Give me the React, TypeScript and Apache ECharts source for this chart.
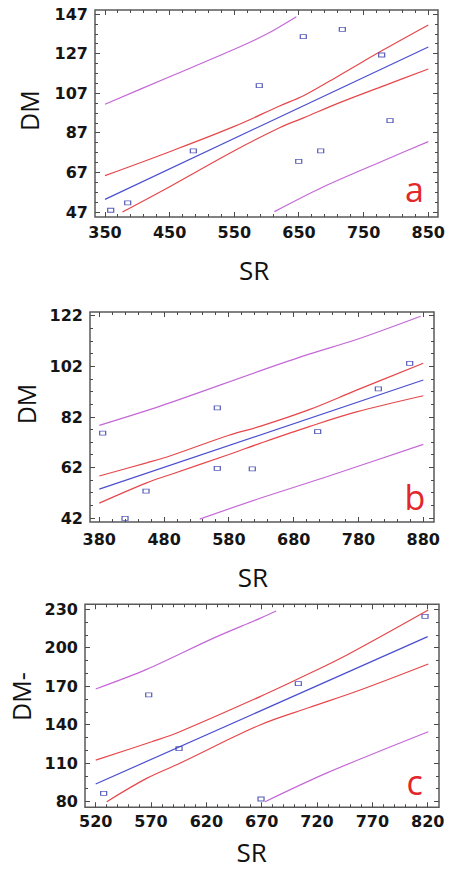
import React, { useEffect, useRef } from "react";
import * as echarts from "echarts";

// ---------- Panel a ----------
const aTicksX = [350, 450, 550, 650, 750, 850];
const aTicksY = [47, 67, 87, 107, 127, 147];
const aSR = [358.8, 385.1, 486.6, 588.6, 649.6, 656.7, 683.6, 717, 777.9, 790.8];
const aDM = [47.9, 51.6, 77.9, 110.9, 72.6, 135.7, 77.9, 139.4, 126.4, 93.2];
const aFit = [[350, 53.4], [850, 130.5]];
const aConfUpper = [[350, 65.4], [450, 77.5], [550, 90.3], [620, 100.6], [657, 105.8], [713, 116.2], [780, 128.9], [850, 141.6]];
const aConfLower = [[377, 47], [450, 59.8], [550, 78], [620, 89.6], [657, 94.6], [713, 102.3], [780, 110.7], [850, 119.3]];
const aPredUpper = [[350, 101.5], [450, 115.4], [550, 129.3], [600, 137], [646, 145.8]];
const aPredLower = [[612, 47.2], [688, 59.8], [786, 73.7], [850, 82.6]];

// ---------- Panel b ----------
const bTicksX = [380, 480, 580, 680, 780, 880];
const bTicksY = [42, 62, 82, 102, 122];
const bSR = [385.2, 419.7, 452.1, 562.1, 562.1, 616.1, 717, 810.6, 859];
const bDM = [75.6, 42.0, 52.7, 85.6, 61.7, 61.5, 76.2, 93.1, 103.2];
const bFit = [[380, 53.5], [880, 96.6]];
const bConfUpper = [[380, 58.7], [453, 63.9], [490, 66.7], [580, 74.8], [628, 78.3], [705, 85], [777, 92.6], [880, 103.2]];
const bConfLower = [[380, 48], [453, 56], [489, 59.2], [580, 67.2], [628, 71.6], [705, 78.3], [777, 84], [880, 90.4]];
const bPredUpper = [[380, 78.7], [474, 86.3], [628, 100.2], [705, 106.9], [777, 112.6], [876, 121.8]];
const bPredLower = [[535, 41.7], [628, 49.9], [731, 58.4], [880, 71.2]];

// ---------- Panel c ----------
const cTicksX = [520, 570, 620, 670, 720, 770, 820];
const cTicksY = [80, 110, 140, 170, 200, 230];
const cSR = [527.2, 567.9, 595.3, 669.4, 703.1, 817.6];
const cDM = [86.5, 163.3, 121.4, 82.1, 172.1, 224.7];
const cFit = [[520, 93.8], [820, 208.8]];
const cConfUpper = [[520, 112.5], [570.6, 126.8], [596, 134.6], [668.5, 162], [713, 180], [747, 194.5], [820.5, 229.6]];
const cConfLower = [[530, 80], [566, 98.2], [596, 110], [668.5, 139.9], [713, 153.5], [759, 167.2], [820.5, 187.5]];
const cPredUpper = [[520, 168], [566, 183.3], [626, 207.5], [668.5, 223.1], [683, 228.8]];
const cPredLower = [[673, 80], [729, 102.5], [820.5, 134.6]];

const xTitle = "SR";
const yTitles = ["DM", "DM", "DM-"];
const panelLetters = ["a", "b", "c"];

const PT = "#2d33a6";
const FIT = "#4a4fcf";
const CONF = "#e6474a";
const PRED = "#c468d6";
const FRAME = "#5a5a5a";
const TICK = "#4a4a4a";
const LABEL_FONT = "DejaVu Sans";
const TITLE_FONT = "Open Sans";

type Panel = {
  ticksX: number[];
  ticksY: number[];
  minorX: number;
  minorY: number;
  inner: { left: number; top: number; width: number; height: number };
  frame: { left: number; top: number; right: number; bottom: number };
  marginX: number;
  srGap: number;
  srPad: number[];
  dmGap: number;
  dmPad: number[];
  letterPos: number[];
  sr: number[];
  dm: number[];
  fit: number[][];
  cu: number[][];
  cl: number[][];
  pu: number[][];
  pl: number[][];
};

const panels: Panel[] = [
  {
    ticksX: aTicksX, ticksY: aTicksY, minorX: 5, minorY: 4,
    inner: { left: 105, top: 14.3, width: 323.3, height: 197.7 },
    frame: { left: 95, top: 10, right: 438, bottom: 217 },
    marginX: 7, srGap: 40, srPad: [0, 25, 0, 0], dmGap: 54, dmPad: [0, 0, 0, 5],
    letterPos: [405, 172],
    sr: aSR, dm: aDM, fit: aFit, cu: aConfUpper, cl: aConfLower, pu: aPredUpper, pl: aPredLower,
  },
  {
    ticksX: bTicksX, ticksY: bTicksY, minorX: 5, minorY: 4,
    inner: { left: 99.3, top: 315.7, width: 324, height: 202.6 },
    frame: { left: 90, top: 312, right: 434, bottom: 522 },
    marginX: 9, srGap: 42, srPad: [0, 17, 0, 0], dmGap: 49, dmPad: [0, 0, 0, 26],
    letterPos: [404.6, 480],
    sr: bSR, dm: bDM, fit: bFit, cu: bConfUpper, cl: bConfLower, pu: bPredUpper, pl: bPredLower,
  },
  {
    ticksX: cTicksX, ticksY: cTicksY, minorX: 5, minorY: 3,
    inner: { left: 95.7, top: 609.5, width: 332, height: 192.2 },
    frame: { left: 85, top: 604.3, right: 439, bottom: 807.3 },
    marginX: 6, srGap: 32, srPad: [0, 20, 0, 0], dmGap: 46, dmPad: [0, 0, 0, 18],
    letterPos: [406.4, 765],
    sr: cSR, dm: cDM, fit: cFit, cu: cConfUpper, cl: cConfLower, pu: cPredUpper, pl: cPredLower,
  },
];

// tick items: [value, 1 = major / 0 = minor]
function tickItems(ticks: number[], split: number): number[][] {
  const out: number[][] = [];
  for (let i = 0; i < ticks.length; i++) {
    out.push([ticks[i], 1]);
    if (i < ticks.length - 1) {
      const step = (ticks[i + 1] - ticks[i]) / split;
      for (let k = 1; k < split; k++) out.push([ticks[i] + k * step, 0]);
    }
  }
  return out;
}

function buildOption() {
  const grid: any[] = [];
  const xAxis: any[] = [];
  const yAxis: any[] = [];
  const series: any[] = [];
  const title: any[] = [];

  panels.forEach((p, i) => {
    grid.push({ left: p.inner.left, top: p.inner.top, width: p.inner.width, height: p.inner.height });
    const xMin = p.ticksX[0];
    const xMax = p.ticksX[p.ticksX.length - 1];
    const xInt = p.ticksX[1] - p.ticksX[0];
    const yMin = p.ticksY[0];
    const yMax = p.ticksY[p.ticksY.length - 1];
    const yInt = p.ticksY[1] - p.ticksY[0];
    const offL = p.inner.left - p.frame.left;
    const offR = p.frame.right - (p.inner.left + p.inner.width);
    const offT = p.inner.top - p.frame.top;
    const offB = p.frame.bottom - (p.inner.top + p.inner.height);

    const mkLabel = (margin: number) => ({
      fontFamily: LABEL_FONT,
      fontWeight: "bold",
      fontSize: 16,
      color: "#151515",
      margin,
    });

    ["bottom", "top"].forEach((pos) => {
      const isMain = pos === "bottom";
      xAxis.push({
        type: "value",
        gridIndex: i,
        position: pos,
        min: xMin,
        max: xMax,
        interval: xInt,
        offset: isMain ? offB : offT,
        name: isMain ? xTitle : "",
        nameLocation: "middle",
        nameGap: p.srGap,
        nameTextStyle: { fontFamily: TITLE_FONT, fontSize: 26, color: "#111", padding: p.srPad },
        axisLine: { show: false, onZero: false },
        axisTick: { show: false },
        minorTick: { show: false },
        splitLine: { show: false },
        minorSplitLine: { show: false },
        axisLabel: isMain ? mkLabel(p.marginX) : { show: false },
      });
    });
    ["left", "right"].forEach((pos) => {
      const isMain = pos === "left";
      yAxis.push({
        type: "value",
        gridIndex: i,
        position: pos,
        min: yMin,
        max: yMax,
        interval: yInt,
        offset: isMain ? offL : offR,
        name: isMain ? yTitles[i] : "",
        nameLocation: "middle",
        nameGap: p.dmGap,
        nameTextStyle: { fontFamily: TITLE_FONT, fontSize: 25, color: "#111", padding: p.dmPad },
        axisLine: { show: false, onZero: false },
        axisTick: { show: false },
        minorTick: { show: false },
        splitLine: { show: false },
        minorSplitLine: { show: false },
        axisLabel: isMain ? mkLabel(7) : { show: false },
      });
    });

    const xi = 2 * i;
    const yi = 2 * i;
    const lineSeries = (data: number[][], color: string, smooth: number) => ({
      type: "line",
      xAxisIndex: xi,
      yAxisIndex: yi,
      data,
      showSymbol: false,
      smooth,
      clip: false,
      silent: true,
      lineStyle: { color, width: 1.2 },
      itemStyle: { color },
      z: 2,
    });
    series.push(lineSeries(p.pu, PRED, 0.3));
    series.push(lineSeries(p.pl, PRED, 0.3));
    series.push(lineSeries(p.cu, CONF, 0.35));
    series.push(lineSeries(p.cl, CONF, 0.35));
    series.push(lineSeries(p.fit, FIT, 0));
    series.push({
      type: "scatter",
      xAxisIndex: xi,
      yAxisIndex: yi,
      data: p.sr.map((x, k) => [x, p.dm[k]]),
      symbol: "rect",
      symbolSize: [6, 4],
      clip: false,
      itemStyle: { color: "rgba(255,255,255,0)", borderColor: PT, borderWidth: 1 },
      z: 5,
    });

    // inward tick marks on all four sides, placed through the axes' scales
    const sides: { side: string; items: number[][] }[] = [
      { side: "bottom", items: tickItems(p.ticksX, p.minorX) },
      { side: "top", items: tickItems(p.ticksX, p.minorX) },
      { side: "left", items: tickItems(p.ticksY, p.minorY) },
      { side: "right", items: tickItems(p.ticksY, p.minorY) },
    ];
    sides.forEach(({ side, items }) => {
      const isX = side === "bottom" || side === "top";
      series.push({
        type: "custom",
        coordinateSystem: "cartesian2d",
        xAxisIndex: xi,
        yAxisIndex: yi,
        clip: false,
        silent: true,
        z: 6,
        encode: isX ? { x: 0, y: 1 } : { x: 1, y: 0 },
        data: items,
        renderItem: (params: any, api: any) => {
          const v = api.value(0);
          const len = api.value(1) === 1 ? 5 : 3;
          if (side === "bottom") {
            const pt = api.coord([v, yMin]);
            const yEdge = pt[1] + offB;
            return { type: "rect", shape: { x: Math.round(pt[0] - 0.5), y: yEdge - len, width: 1, height: len }, style: { fill: TICK } };
          }
          if (side === "top") {
            const pt = api.coord([v, yMax]);
            const yEdge = pt[1] - offT;
            return { type: "rect", shape: { x: Math.round(pt[0] - 0.5), y: yEdge, width: 1, height: len }, style: { fill: TICK } };
          }
          if (side === "left") {
            const pt = api.coord([xMin, v]);
            const xEdge = pt[0] - offL;
            return { type: "rect", shape: { x: xEdge, y: Math.round(pt[1] - 0.5), width: len, height: 1 }, style: { fill: TICK } };
          }
          const pt = api.coord([xMax, v]);
          const xEdge = pt[0] + offR;
          return { type: "rect", shape: { x: xEdge - len, y: Math.round(pt[1] - 0.5), width: len, height: 1 }, style: { fill: TICK } };
        },
      });
    });

    title.push({
      text: panelLetters[i],
      left: p.letterPos[0],
      top: p.letterPos[1],
      padding: 0,
      textStyle: { fontFamily: TITLE_FONT, fontSize: 34, fontWeight: "normal", color: "#e3262b" },
    });
  });

  // outer frames: one bordered grid per panel with hidden axes
  panels.forEach((p, i) => {
    grid.push({
      left: p.frame.left,
      top: p.frame.top,
      width: p.frame.right - p.frame.left,
      height: p.frame.bottom - p.frame.top,
      show: true,
      backgroundColor: "transparent",
      borderColor: FRAME,
      borderWidth: 1.5,
    });
    xAxis.push({ type: "value", gridIndex: 3 + i, show: false, min: 0, max: 1 });
    yAxis.push({ type: "value", gridIndex: 3 + i, show: false, min: 0, max: 1 });
  });

  return {
    animation: false,
    backgroundColor: "#ffffff",
    title,
    grid,
    xAxis,
    yAxis,
    series,
  };
}

export default function App() {
  const ref = useRef<HTMLDivElement>(null);
  useEffect(() => {
    if (!ref.current) return;
    const chart = echarts.init(ref.current, null, { renderer: "svg" });
    chart.setOption(buildOption() as any);
    return () => chart.dispose();
  }, []);
  return (
    <div
      ref={ref}
      style={{ position: "absolute", left: 0, top: 0, width: 451, height: 870, background: "#fff" }}
    />
  );
}
